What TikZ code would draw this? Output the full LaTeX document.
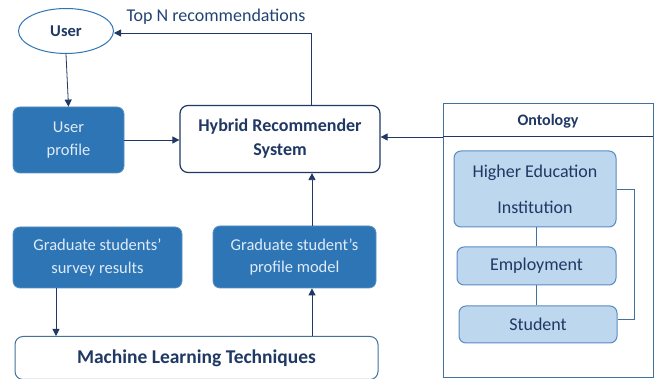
\documentclass[tikz,border=0pt]{standalone}
\usepackage{fontspec}
\setmainfont{Carlito}
\usetikzlibrary{arrows.meta,shapes.geometric}
\definecolor{navy}{HTML}{1F3864}
\definecolor{dblue}{HTML}{2E75B6}
\definecolor{lblue}{HTML}{BDD7EE}
\definecolor{lborder}{HTML}{5B8BC0}
\definecolor{ltext}{HTML}{DEEBF7}
\definecolor{mborder}{HTML}{41719C}
\tikzset{
  darkbox/.style={draw=dblue!80!white, fill=dblue, rounded corners=7pt, text=ltext, align=center, font=\fontsize{16.5}{22.5}\selectfont, inner sep=0pt, line width=0.8pt},
  lightbox/.style={draw=lborder, fill=lblue, rounded corners=7pt, text=navy, align=center, font=\fontsize{18}{22}\selectfont, inner sep=0pt, line width=1pt},
  whitebox/.style={draw=navy, fill=white, rounded corners=8pt, text=navy, align=center, inner sep=0pt, line width=1.2pt},
  arr/.style={draw=navy, line width=0.8pt, -{Triangle[length=7pt,width=7pt]}},
  ln/.style={draw=mborder, line width=0.8pt},
}
\begin{document}
\begin{tikzpicture}[x=1pt,y=-1pt]
\useasboundingbox[fill=white] (0,0) rectangle (654,379);
% User ellipse
\node[ellipse, draw=dblue, line width=1pt, minimum width=95pt, minimum height=45pt, inner sep=0pt, text=navy, font=\fontsize{16.5}{18}\selectfont\bfseries] (user) at (66,31) {User};
% user profile
\node[darkbox, minimum width=111pt, minimum height=66pt] (uprof) at (68.5,140) {User\\profile};
% HRS
\node[whitebox, minimum width=200pt, minimum height=67pt, font=\fontsize{18}{24}\selectfont\bfseries] (hrs) at (280,139) {Hybrid Recommender\\System};
% survey
\node[darkbox, minimum width=169pt, minimum height=61pt] (survey) at (97.5,257.5) {Graduate students’\\survey results};
% profile model
\node[darkbox, minimum width=163pt, minimum height=62pt] (pmodel) at (294.5,257) {Graduate student’s\\profile model};
% ML
\node[whitebox, draw=mborder, line width=1pt, minimum width=363pt, minimum height=43pt, font=\fontsize{19.5}{22}\selectfont\bfseries] (ml) at (196.5,358) {Machine Learning Techniques};
% Ontology frame
\draw[draw=mborder, line width=1pt] (443,104) rectangle (653,378);
\draw[draw=navy, line width=1pt] (443,137) -- (653,137);
\node[text=navy, font=\fontsize{16}{18}\selectfont\bfseries] (onttitle) at (548,121) {Ontology};
\coordinate (ontl) at (443,137);
% Ontology boxes
\node[lightbox, minimum width=162pt, minimum height=76pt] (hei) at (535,189) {Higher Education\\[14pt]Institution};
\node[lightbox, minimum width=159pt, minimum height=38pt] (emp) at (536.5,266) {Employment};
\node[lightbox, minimum width=158pt, minimum height=37pt] (stu) at (538,324.5) {Student};
% connectors
\draw[arr] (user.south) -- (uprof.north);
\draw[arr] (uprof.east) -- (hrs.west |- uprof.east);
\coordinate (topc) at (311,33);
\draw[arr] (hrs.north -| topc) -- (topc) -- (user.east |- topc);
\node[text=navy!80!dblue, font=\fontsize{18}{20}\selectfont, anchor=west] (topn) at (123,17) {Top N recommendations};
\draw[arr] (ontl) -- (hrs.east |- ontl);
\draw[arr] (survey.south -| 56,0) -- (ml.north -| 56,0);
\draw[arr] (ml.north -| 312,0) -- (pmodel.south -| 312,0);
\draw[arr] (pmodel.north -| 312,0) -- (hrs.south -| 312,0);
\draw[ln] (hei.south -| 536,0) -- (emp.north -| 536,0);
\draw[ln] (emp.south -| 536,0) -- (stu.north -| 536,0);
\draw[ln] (hei.east |- 0,189) -- (634,189) -- (634,319) -- (stu.east |- 0,319);
\end{tikzpicture}
\end{document}
